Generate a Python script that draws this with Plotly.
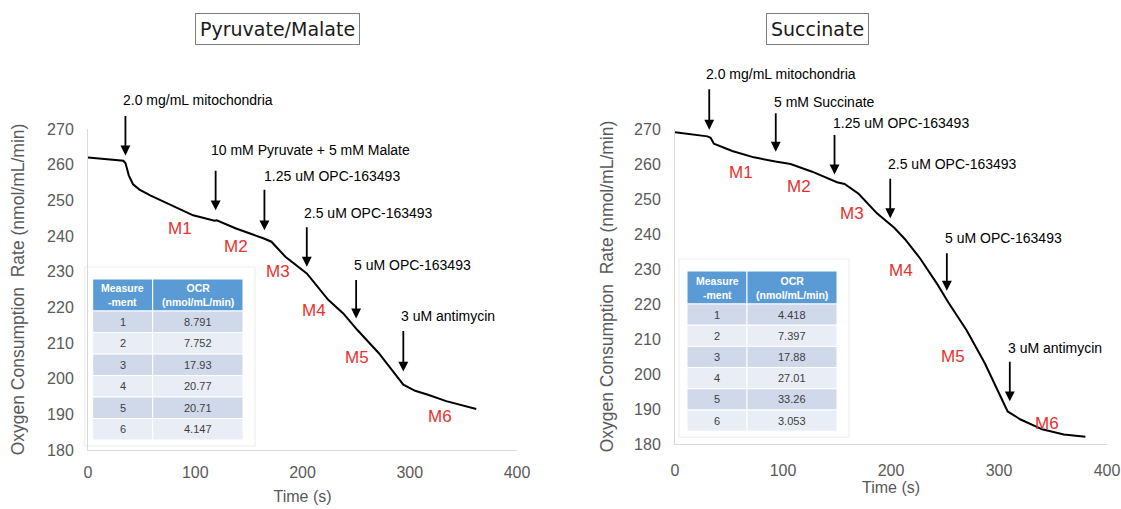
import plotly.graph_objects as go

W, H = 1121, 509

# ---------------- data ----------------
# Pyruvate/Malate trace
pm_time = [0, 20, 33, 35, 38, 42, 48, 58, 78, 98, 118, 120, 138, 150, 164, 171, 184, 204,
           224, 238, 251, 271, 294, 305, 317, 334, 350, 362]
pm_ocr = [262, 261.5, 261.1, 260.4, 257, 254.5, 253, 251.4, 248.6, 245.8, 244.3, 244.4, 242.1,
          240.9, 239.3, 238.4, 234.2, 229.5, 222.1, 218.3, 213.7, 207.2, 198.3, 196.6, 195.5,
          193.7, 192.4, 191.5]

# Succinate trace
sc_time = [0, 30, 33, 36, 53, 73, 93, 107, 127, 147, 150, 157, 170, 187, 203, 213, 227, 243,
           253, 270, 287, 300, 308, 320, 340, 360, 380]
sc_ocr = [269.1, 267.9, 267.5, 265.8, 263.7, 261.9, 260.7, 260, 257.8, 255.2, 254.8, 254.3,
          251.5, 245.9, 241.8, 238.5, 233, 225.6, 220.5, 212.5, 203, 194.5, 189.3, 187, 184.2,
          182.7, 182.1]

# injection arrows (tip time, tip value, label)
pm_inj_time = [34.9, 119, 164.5, 204, 250, 294]
pm_inj_tip = [262.6, 247.2, 241.6, 231.4, 216.9, 202.0]
pm_inj_label = ["2.0 mg/mL mitochondria", "10 mM Pyruvate + 5 mM Malate", "1.25 uM OPC-163493",
                "2.5 uM OPC-163493", "5 uM OPC-163493", "3 uM antimycin"]

sc_inj_time = [31.7, 93.3, 147.7, 199.3, 251.7, 310]
sc_inj_tip = [269.8, 263.5, 257, 244.5, 223.8, 192.2]
sc_inj_label = ["2.0 mg/mL mitochondria", "5 mM Succinate", "1.25 uM OPC-163493",
                "2.5 uM OPC-163493", "5 uM OPC-163493", "3 uM antimycin"]

# measurement labels
pm_m_time = [86, 138, 177, 211, 251, 328]
pm_m_val = [242, 237, 230, 219, 206, 189.5]
sc_m_time = [61, 115, 164, 209, 257, 344]
sc_m_val = [257.7, 253.7, 246, 229.7, 204.9, 186]
m_labels = ["M1", "M2", "M3", "M4", "M5", "M6"]

# tables
table_header = ["<b>Measure<br>-ment</b>", "<b>OCR<br>(nmol/mL/min)</b>"]
measurements = ["1", "2", "3", "4", "5", "6"]
pm_table_ocr = ["8.791", "7.752", "17.93", "20.77", "20.71", "4.147"]
sc_table_ocr = ["4.418", "7.397", "17.88", "27.01", "33.26", "3.053"]

x_ticks = [0, 100, 200, 300, 400]

# ---------------- style ----------------
GRAY = "#595959"
AXLINE = "#d9d9d9"
RED = "#e8312f"
FONT = "Liberation Sans, Arial, sans-serif"

# arrow styling (pixel lengths / offsets)
pm_arrow_len = [41, 41, 42, 41, 40, 42]
pm_text_gap = [14, 19, 12, 13, 13, 14]
pm_text_dx = [-4, -7, -2, -5, -4, -4]
sc_arrow_len = [42, 40, 41, 41, 39, 41]
sc_text_gap = [14, 10, 11, 13, 14, 12]
sc_text_dx = [-5, -4, -4, -4, -4, -4]

# table geometry in pixels: x0, x_split, x1, top, header height, row height
pm_table_geom = (92.7, 152.7, 243, 279, 32, 21.5)
sc_table_geom = (687, 747, 837, 271, 33, 21.2)


def px_x(p):
    return p / W


def px_y(p):
    return 1 - p / H


fig = go.Figure()

fig.add_trace(go.Scatter(x=pm_time, y=pm_ocr, mode="lines", line=dict(color="black", width=2),
                         xaxis="x", yaxis="y", showlegend=False, hoverinfo="skip"))
fig.add_trace(go.Scatter(x=sc_time, y=sc_ocr, mode="lines", line=dict(color="black", width=2),
                         xaxis="x2", yaxis="y2", showlegend=False, hoverinfo="skip"))

shapes = []
ann = []


def add_table(geom, col1, col2):
    x0, xs, x1, top, hh, rh = geom
    # faint frame of the text box
    nrows = len(col1)
    bottom = top + hh + nrows * rh
    shapes.append(dict(type="rect", xref="paper", yref="paper", x0=px_x(x0 - 8), x1=px_x(x1 + 12),
                       y0=px_y(bottom + 6), y1=px_y(top - 12), line=dict(color="#ececec", width=1),
                       fillcolor="rgba(0,0,0,0)", layer="below"))
    cols = [(x0, xs), (xs, x1)]
    for (a, b), htxt in zip(cols, table_header):
        shapes.append(dict(type="rect", xref="paper", yref="paper", x0=px_x(a), x1=px_x(b),
                           y0=px_y(top + hh), y1=px_y(top), fillcolor="#5b9bd5",
                           line=dict(color="white", width=1)))
        ann.append(dict(x=px_x((a + b) / 2), y=px_y(top + hh / 2), xref="paper", yref="paper",
                        xanchor="center", yanchor="middle", text=htxt, showarrow=False,
                        font=dict(family=FONT, size=10.5, color="white")))
    for i, (m, v) in enumerate(zip(col1, col2)):
        r0 = top + hh + i * rh
        fill = "#cfd9ea" if i % 2 == 0 else "#e9edf5"
        for (a, b), txt in zip(cols, [m, v]):
            shapes.append(dict(type="rect", xref="paper", yref="paper", x0=px_x(a), x1=px_x(b),
                               y0=px_y(r0 + rh), y1=px_y(r0), fillcolor=fill,
                               line=dict(color="white", width=1)))
            ann.append(dict(x=px_x((a + b) / 2), y=px_y(r0 + rh / 2), xref="paper", yref="paper",
                            xanchor="center", yanchor="middle", text=txt, showarrow=False,
                            font=dict(family=FONT, size=11, color="#404040")))


add_table(pm_table_geom, measurements, pm_table_ocr)
add_table(sc_table_geom, measurements, sc_table_ocr)

axis_common = dict(showgrid=False, zeroline=False, showline=True, linecolor=AXLINE, linewidth=1,
                   ticks="", automargin=False, tickfont=dict(family=FONT, size=16, color=GRAY))

fig.update_layout(
    width=W, height=H, margin=dict(l=0, r=0, t=0, b=0, autoexpand=False),
    paper_bgcolor="white", plot_bgcolor="white", showlegend=False,
    xaxis=dict(domain=[px_x(88), px_x(517)], range=[0, 400], tickvals=x_ticks, anchor="y",
               ticklabelstandoff=8,
               title=dict(text="Time (s)", font=dict(family=FONT, size=16, color=GRAY), standoff=10),
               **axis_common),
    yaxis=dict(domain=[px_y(450), px_y(129)], range=[180, 270], dtick=10, anchor="x",
               ticklabelstandoff=10,
               title=dict(text="Oxygen Consumption  Rate (nmol/mL/min)",
                          font=dict(family=FONT, size=17.5, color=GRAY), standoff=17),
               **axis_common),
    xaxis2=dict(domain=[px_x(675), px_x(1107)], range=[0, 400], tickvals=x_ticks, anchor="y2",
                ticklabelstandoff=12,
                title=dict(text="Time (s)", font=dict(family=FONT, size=16, color=GRAY), standoff=0),
                **axis_common),
    yaxis2=dict(domain=[px_y(444), px_y(129)], range=[180, 270], dtick=10, anchor="x2",
                ticklabelstandoff=10,
                title=dict(text="Oxygen Consumption  Rate (nmol/mL/min)",
                           font=dict(family=FONT, size=17.5, color=GRAY), standoff=15),
                **axis_common),
)

for xr, yr, times, tips, labels, lens, gaps, dxs in [
    ("x", "y", pm_inj_time, pm_inj_tip, pm_inj_label, pm_arrow_len, pm_text_gap, pm_text_dx),
    ("x2", "y2", sc_inj_time, sc_inj_tip, sc_inj_label, sc_arrow_len, sc_text_gap, sc_text_dx),
]:
    for t, v, lab, L, g, dx in zip(times, tips, labels, lens, gaps, dxs):
        ann.append(dict(x=t, y=v, xref=xr, yref=yr, text="", showarrow=True, ax=0, ay=-L,
                        arrowhead=2, arrowsize=1.1, arrowwidth=1.8, arrowcolor="black", standoff=0))
        ann.append(dict(x=t, y=v, xref=xr, yref=yr, text=lab, showarrow=False, xanchor="left",
                        yanchor="middle", xshift=dx, yshift=L + g,
                        font=dict(family=FONT, size=14, color="black")))

for xr, yr, times, vals in [("x", "y", pm_m_time, pm_m_val), ("x2", "y2", sc_m_time, sc_m_val)]:
    for t, v, lab in zip(times, vals, m_labels):
        ann.append(dict(x=t, y=v, xref=xr, yref=yr, text=lab, showarrow=False,
                        xanchor="center", yanchor="middle",
                        font=dict(family=FONT, size=17, color=RED)))

# panel titles in boxes
for title, cx in [("Pyruvate/Malate", 277), ("Succinate", 817.5)]:
    ann.append(dict(x=px_x(cx), y=px_y(29.5), xref="paper", yref="paper", text=title,
                    xanchor="center", yanchor="middle",
                    showarrow=False, font=dict(family="DejaVu Sans", size=19, color="#1a1a1a"),
                    bordercolor="#7f7f7f", borderwidth=1, borderpad=4, bgcolor="white"))

fig.update_layout(annotations=ann, shapes=shapes)

fig.write_html("out.html", config={"displayModeBar": False},
               post_script="document.body.style.margin='0';")
